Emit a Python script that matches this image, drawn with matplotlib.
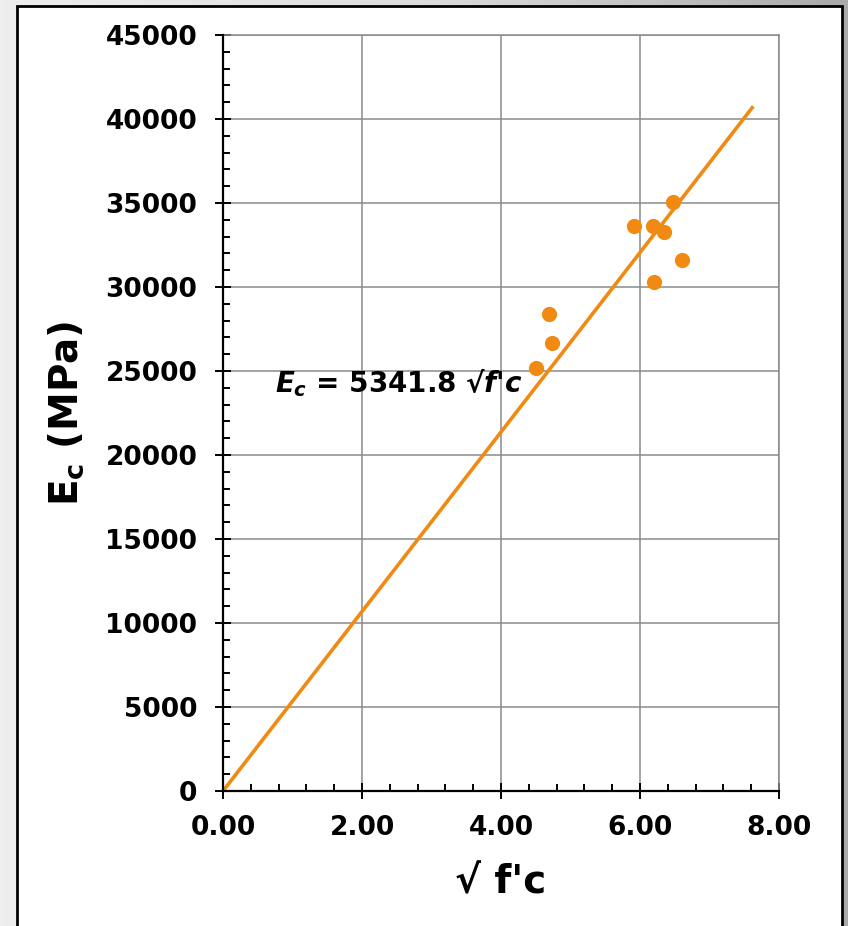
import matplotlib
matplotlib.use("Agg")
import matplotlib.pyplot as plt
import numpy as np
from matplotlib.patches import Rectangle
from matplotlib.ticker import MultipleLocator, FormatStrFormatter

# measured points: sqrt(f'c) vs Ec (MPa)
sqrt_fc = [4.50, 4.69, 4.73, 5.92, 6.19, 6.20, 6.34, 6.48, 6.61]
ec_mpa = [25160, 28370, 26690, 33630, 33630, 30320, 33250, 35080, 31600]

# trend line through origin
slope = 5341.8
line_x = [0.0, 7.63]

orange = "#F08A12"

plt.rcParams["font.family"] = ["DejaVu Sans"]
plt.rcParams["font.weight"] = "bold"
plt.rcParams["mathtext.fontset"] = "custom"
plt.rcParams["mathtext.rm"] = "DejaVu Sans:bold"
plt.rcParams["mathtext.bf"] = "DejaVu Sans:bold"
plt.rcParams["mathtext.it"] = "DejaVu Sans:bold:italic"

fig = plt.figure(figsize=(8.48, 9.26), dpi=100)

# gray backdrop with a horizontal gradient
bg = fig.add_axes([0, 0, 1, 1], zorder=-2)
grad = np.linspace(0, 1, 256).reshape(1, -1)
cmap = matplotlib.colors.LinearSegmentedColormap.from_list("bg", ["#eeeeee", "#dcdcdc", "#aaaaaa"])
bg.imshow(grad, aspect="auto", cmap=cmap, extent=[0, 1, 0, 1])
bg.axis("off")

# white panel with black border
W, H = 848, 926
panel = Rectangle((17 / W, -0.01), (842 - 17) / W, (926 - 6) / H + 0.01,
                  transform=fig.transFigure, facecolor="white", edgecolor="black",
                  linewidth=2, zorder=-1)
fig.patches.append(panel)

ax = fig.add_axes([223 / W, 1 - 791 / H, (779 - 223) / W, (791 - 35) / H])
ax.set_facecolor("none")

ax.scatter(sqrt_fc, ec_mpa, s=120, color=orange, zorder=3, linewidths=0)
line_y = [slope * x for x in line_x]
ax.plot(line_x, line_y, color=orange, linewidth=2.6, zorder=2, solid_capstyle="butt")

ax.set_xlim(0, 8)
ax.set_ylim(0, 45000)
ax.xaxis.set_major_locator(MultipleLocator(2))
ax.xaxis.set_minor_locator(MultipleLocator(0.4))
ax.yaxis.set_major_locator(MultipleLocator(5000))
ax.yaxis.set_minor_locator(MultipleLocator(1000))
ax.xaxis.set_major_formatter(FormatStrFormatter("%.2f"))

ax.grid(True, which="major", color="#8a8a8a", linewidth=1.1)
ax.set_axisbelow(True)
for side in ["left", "bottom"]:
    ax.spines[side].set_color("black")
    ax.spines[side].set_linewidth(1.6)
    ax.spines[side].set_zorder(4)
for side in ["top", "right"]:
    ax.spines[side].set_color("#8a8a8a")
    ax.spines[side].set_linewidth(1.1)

ax.tick_params(which="major", direction="inout", length=11, width=1.4, labelsize=19)
ax.tick_params(which="minor", direction="in", length=5, width=1.4)
ax.tick_params(axis="x", which="major", pad=12)
ax.tick_params(axis="y", which="major", pad=13)
ax.tick_params(top=False, right=False, which="both")
for lbl in ax.get_xticklabels() + ax.get_yticklabels():
    lbl.set_fontweight("bold")

ax.set_xlabel("√ f'c", fontsize=28, fontweight="bold", labelpad=16)
ax.set_ylabel(r"$\mathbf{E}_\mathbf{c}$ (MPa)", fontsize=28, fontweight="bold", labelpad=14)

ax.text(0.75, 24300, r"$E_c$ = 5341.8 √$f$'$c$", fontsize=20, fontweight="bold",
        va="center", ha="left", zorder=5)

fig.savefig("out.png", dpi=100)
